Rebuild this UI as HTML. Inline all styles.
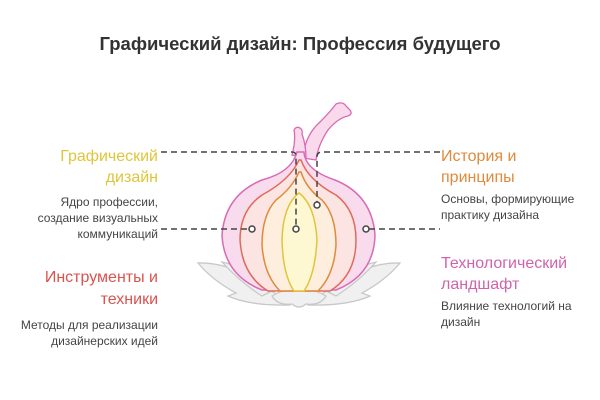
<!DOCTYPE html>
<html><head><meta charset="utf-8"><style>
html,body{margin:0;padding:0;background:#fff;}
svg{display:block;font-family:"Liberation Sans","DejaVu Sans",sans-serif;}
</style></head><body>
<svg width="600" height="400" viewBox="0 0 600 400" xmlns="http://www.w3.org/2000/svg">
<text x="300" y="50" text-anchor="middle" font-size="18.5" font-weight="bold" fill="#333">Графический дизайн: Профессия будущего</text>

<!-- leaves -->
<g fill="#f0f0f0" stroke="#c8c8c8" stroke-width="1.3">
<path d="M198 263 Q230 262 262 285 Q280 298 295 300 L290 305 Q250 306 228 296 L236 293 Q212 280 198 263Z"/>
<path d="M400 263 Q368 262 336 285 Q318 298 303 300 L308 305 Q348 306 370 296 L362 293 Q386 280 400 263Z"/>
<path d="M222 262 Q250 268 270 292 L262 296 Q240 282 222 262Z"/>
<path d="M376 262 Q348 268 328 292 L336 296 Q358 282 376 262Z"/>
<path d="M272 296 Q285 288 299 290 Q313 288 326 296 Q320 306 306 304 Q299 310 292 304 Q278 306 272 296Z"/>
</g>

<!-- stem -->
<g fill="#f9d9ec" stroke="#d86bb4" stroke-width="1.3">
<path d="M303 158 Q305 135 320 122 Q330 112 336 104 Q343 101 346 106 L350 110 Q353 114 348 116 Q338 118 328 130 Q318 145 316 160Z"/>
<path d="M292 155 Q296 140 294 130 Q296 126 300 128 Q303 130 302 134 Q306 145 306 158Z"/>
</g>

<!-- outer -->
<path d="M297 152 Q292 172 262 180 Q225 195 222 235 Q224 275 262 290 L336 290 Q374 275 375 235 Q372 195 335 180 Q305 170 304 152Z" fill="#f9dbee" stroke="#d86bb4" stroke-width="1.5"/>
<!-- red -->
<path d="M299 160 Q290 180 262 195 Q240 210 240 240 Q242 275 268 291 L330 291 Q356 275 356 240 Q356 210 336 195 Q308 180 301 160Z" fill="#fbe4e2" stroke="#e06a5a" stroke-width="1.5"/>
<!-- orange -->
<path d="M299 172 Q292 188 276 200 Q262 215 262 245 Q264 275 280 291 L318 291 Q334 275 336 245 Q336 215 322 200 Q306 188 301 172Z" fill="#fdeedd" stroke="#e08a3c" stroke-width="1.5"/>
<!-- yellow -->
<path d="M299 193 Q283 205 282 240 Q283 275 294 291 L304 291 Q315 275 317 240 Q315 205 299 193Z" fill="#fdf8d2" stroke="#e0c53a" stroke-width="1.5"/>

<!-- connectors -->
<g stroke="#444" stroke-width="1.5" fill="none" stroke-dasharray="6,4">
<path d="M161 152 L292 152 Q296 152 296 156 L296 226"/>
<path d="M440 152 L322 152 Q317 152 317 157 L317 202"/>
<path d="M161 229 L249 229"/>
<path d="M369 229 L440 229"/>
</g>
<g fill="#fff" stroke="#444" stroke-width="1.5">
<circle cx="252" cy="229" r="3"/><circle cx="296" cy="229" r="3"/>
<circle cx="317" cy="205" r="3"/><circle cx="366" cy="229" r="3"/>
</g>

<g text-anchor="end">
<text x="158" y="161" font-size="16" fill="#e0c53a">Графический</text>
<text x="158" y="182" font-size="16" fill="#e0c53a">дизайн</text>
<text x="158" y="206" font-size="12" fill="#444">Ядро профессии,</text>
<text x="158" y="222" font-size="12" fill="#444">создание визуальных</text>
<text x="158" y="238" font-size="12" fill="#444">коммуникаций</text>
<text x="158" y="282" font-size="16" fill="#d9534f">Инструменты и</text>
<text x="158" y="304" font-size="16" fill="#d9534f">техники</text>
<text x="158" y="329" font-size="12" fill="#444">Методы для реализации</text>
<text x="158" y="345" font-size="12" fill="#444">дизайнерских идей</text>
</g>
<g>
<text x="441" y="161" font-size="16" fill="#e08a3c">История и</text>
<text x="441" y="182" font-size="16" fill="#e08a3c">принципы</text>
<text x="441" y="203" font-size="12" fill="#444">Основы, формирующие</text>
<text x="441" y="219" font-size="12" fill="#444">практику дизайна</text>
<text x="441" y="268" font-size="16" fill="#d063ac">Технологический</text>
<text x="441" y="289" font-size="16" fill="#d063ac">ландшафт</text>
<text x="441" y="310" font-size="12" fill="#444">Влияние технологий на</text>
<text x="441" y="326" font-size="12" fill="#444">дизайн</text>
</g>
</svg>
</body></html>
